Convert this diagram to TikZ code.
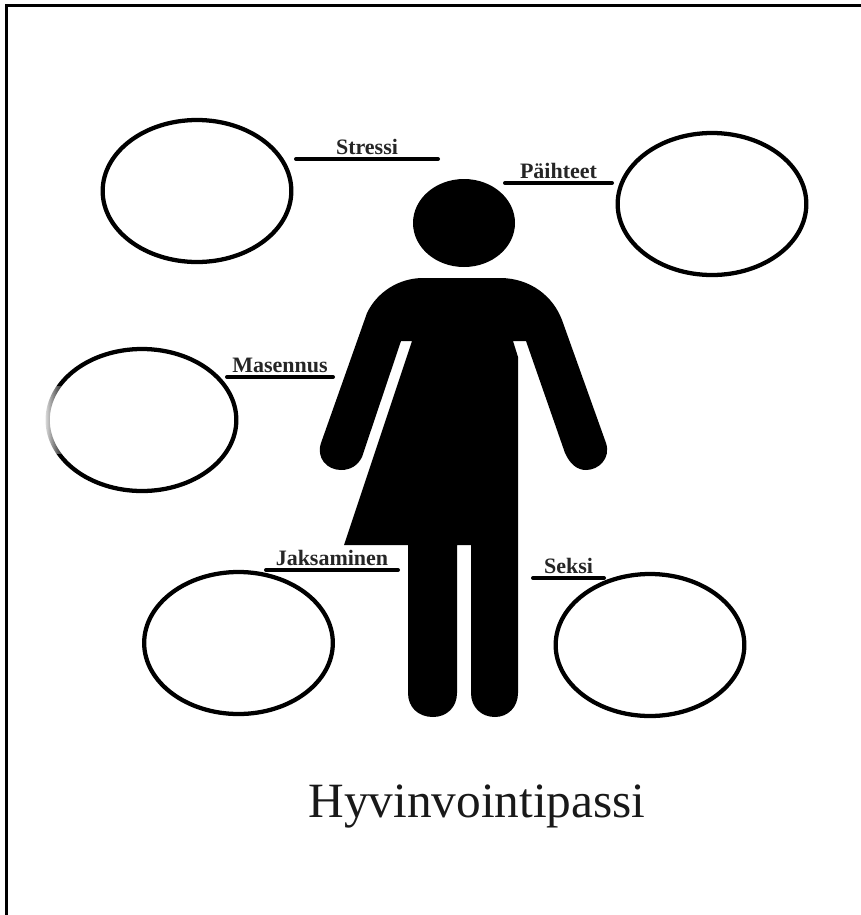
\documentclass[tikz,border=0pt]{standalone}
\usepackage{fontspec}
\setmainfont{Liberation Serif}
\usetikzlibrary{shapes.geometric,fadings,positioning}
\begin{document}
\begin{tikzpicture}[
    x=0.75pt, y=-0.75pt,
    ring/.style={draw=black, ellipse, line width=3.2pt, inner sep=0pt, minimum width=141.5pt, minimum height=106.5pt},
    bar/.style={black, line width=3pt, line cap=round},
    tag/.style={font=\fontsize{16.5}{18}\selectfont\bfseries, text=black!85, inner sep=1pt, above=1pt}
]
\useasboundingbox (0,0) rectangle (861,915);
\fill[white] (0,0) rectangle (861,915);
\coordinate (framea) at (6.5,915);
\coordinate (frameb) at (861,5.5);
\draw[black, line width=2.25pt] (framea) |- (frameb);

\node[ring] (stressiring) at (197,191) {};
\node[ring] (paihteetring) at (712,204) {};
\node[ring] (masennusring) at (142,420) {};
\node[ring] (jaksaminenring) at (238.5,643) {};
\node[ring] (seksiring) at (650,645) {};
\fill[white, path fading=east] (42,386) rectangle (66,454);

\node[ellipse, fill=black, inner sep=0pt, minimum width=76.5pt, minimum height=66pt] (head) at (464,223) {};
\fill[black] (423,278) -- (500,278)
    .. controls (530,278) and (553,296) .. (562,320)
    -- (606,443)
    .. controls (611,458) and (599,470) .. (586,470)
    .. controls (577,470) and (570,464) .. (565,453)
    -- (526,341) -- (513,341) -- (518,357) -- (518,693)
    .. controls (518,707) and (508,717) .. (495,717)
    .. controls (481,717) and (471,707) .. (471,693)
    -- (471,545) -- (457,545) -- (457,693)
    .. controls (457,707) and (447,717) .. (433,717)
    .. controls (418,717) and (408,707) .. (408,693)
    -- (408,545) -- (344,545) -- (412,341) -- (401,341)
    -- (362,457)
    .. controls (358,465) and (351,470) .. (341,470)
    .. controls (327,470) and (316,458) .. (321,443)
    -- (367,313)
    .. controls (377,292) and (399,278) .. (423,278) -- cycle;

\coordinate (stressia) at (296,159);
\coordinate (stressib) at (438,159);
\coordinate (paihteeta) at (505,183);
\coordinate (paihteetb) at (612,183);
\coordinate (masennusa) at (227,377);
\coordinate (masennusb) at (333,377);
\coordinate (jaksaminena) at (266,570);
\coordinate (jaksaminenb) at (398,570);
\coordinate (seksia) at (533,578);
\coordinate (seksib) at (604,578);
\draw[bar] (stressia) -- node[tag] (stressi) {Stressi} (stressib);
\draw[bar] (paihteeta) -- node[tag] (paihteet) {Päihteet} (paihteetb);
\draw[bar] (masennusa) -- node[tag] (masennus) {Masennus} (masennusb);
\draw[bar] (jaksaminena) -- node[tag] (jaksaminen) {Jaksaminen} (jaksaminenb);
\draw[bar] (seksia) -- node[tag] (seksi) {Seksi} (seksib);

\node[font=\fontsize{37}{40}\selectfont, text=black!90, inner sep=0pt] (title) at (477,806) {Hyvinvointipassi};
\end{tikzpicture}
\end{document}
